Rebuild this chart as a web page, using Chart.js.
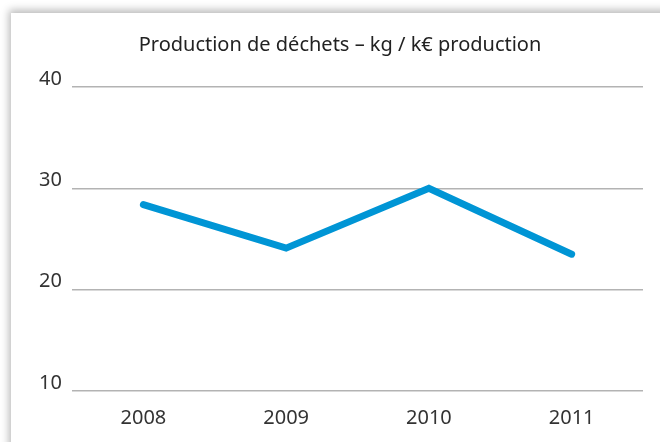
<!DOCTYPE html>
<html>
<head>
<meta charset="utf-8">
<script src="https://cdn.jsdelivr.net/npm/chart.js@4"></script>
<style>
  html, body { margin: 0; padding: 0; background: #fff; }
  body { width: 660px; height: 442px; position: relative; overflow: hidden; }
  #card {
    position: absolute; left: 11px; top: 13px; width: 700px; height: 500px;
    background: #fff; box-shadow: -2px -3px 8px rgba(0,0,0,0.28);
  }
  #wrap { position: absolute; left: 0; top: 0; width: 660px; height: 442px; }
</style>
</head>
<body>
<div id="card"></div>
<div id="wrap"><canvas id="chart" width="660" height="442"></canvas></div>
<script>
const years = ["2008", "2009", "2010", "2011"];
const wastePerProduction = [28.4, 24.1, 30.0, 23.5];
const yTicks = [10, 20, 30, 40];

const ctx = document.getElementById("chart").getContext("2d");

new Chart(ctx, {
  type: "line",
  data: {
    labels: years,
    datasets: [{
      label: "kg / k€ production",
      data: wastePerProduction,
      borderColor: "#0095d5",
      borderWidth: 7,
      pointRadius: 0,
      tension: 0,
      borderCapStyle: "round",
      borderJoinStyle: "miter"
    }]
  },
  options: {
    responsive: false,
    animation: false,
    layout: { padding: { left: 37, right: 17, top: 33, bottom: 0 } },
    plugins: {
      legend: { display: false },
      tooltip: { enabled: false },
      title: {
        display: true,
        text: "Production de déchets – kg / k€ production",
        color: "#222",
        font: { family: "Noto Sans", size: 20, weight: "normal" },
        padding: { top: 0, bottom: 30 }
      }
    },
    scales: {
      x: {
        offset: true,
        grid: { display: false },
        border: { display: false },
        ticks: {
          color: "#333",
          font: { family: "Noto Sans", size: 20 },
          padding: 7
        },
        afterFit: (s) => { s.height = 51; }
      },
      y: {
        min: 10,
        max: 40,
        afterBuildTicks: (s) => { s.ticks = yTicks.map(v => ({ value: v })); },
        grid: { color: "#b3b3b3", lineWidth: 1.5, drawTicks: false },
        border: { display: false },
        ticks: {
          color: "#333",
          font: { family: "Noto Sans", size: 20 },
          padding: 10,
          labelOffset: -8
        },
        afterFit: (s) => { s.width = 35; }
      }
    }
  }
});
</script>
</body>
</html>
